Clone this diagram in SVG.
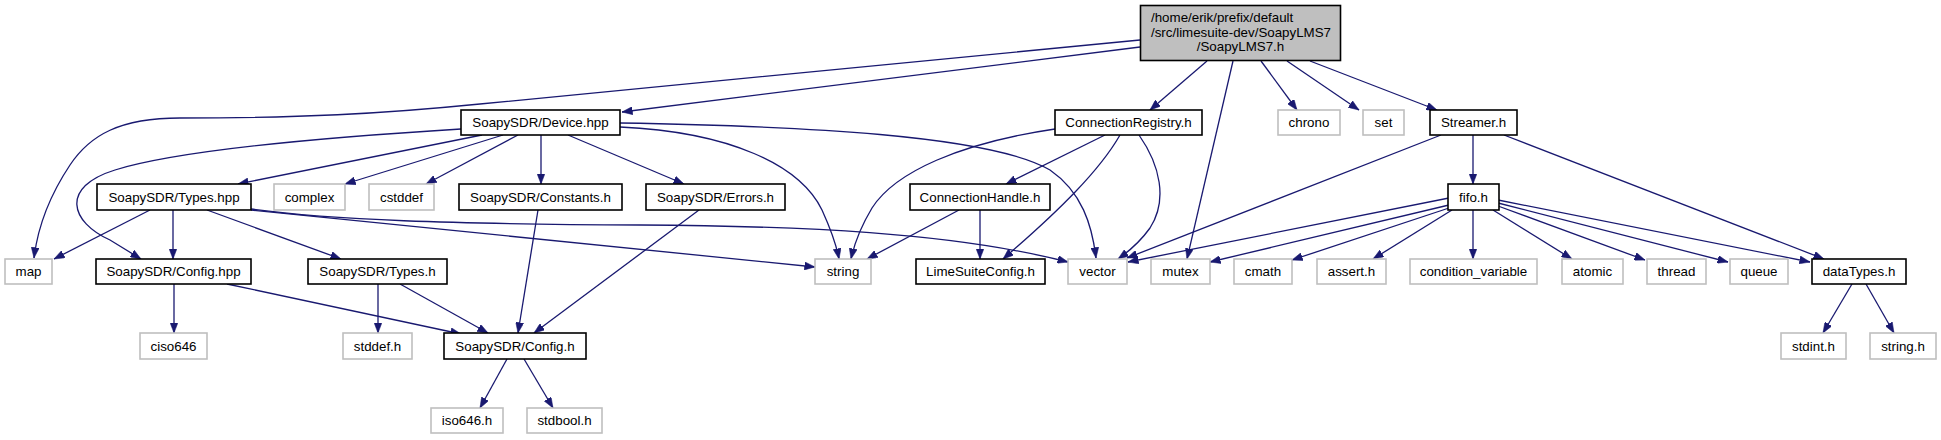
<svg xmlns="http://www.w3.org/2000/svg" width="1941" height="440" viewBox="0 0 1941 440">
<style>
text{font-family:"Liberation Sans",Arial,sans-serif;font-size:13.33px;fill:#000;text-anchor:middle}
.n rect{fill:#fff;stroke:#000;stroke-width:1.6}
.g rect{fill:#fff;stroke:#bfbfbf;stroke-width:1.6}
.m rect{fill:#bfbfbf;stroke:#000;stroke-width:1.6}
#edges path{fill:none;stroke:#191970;stroke-width:1.3;marker-end:url(#ah)}
</style>
<defs>
<marker id="ah" markerUnits="userSpaceOnUse" markerWidth="11" markerHeight="8" refX="10.5" refY="4" orient="auto">
<path d="M0,0 L10.5,4 L0,8 z" fill="#191970" stroke="#191970" stroke-width="0.5"/>
</marker>
</defs>
<rect width="1941" height="440" fill="#fff"/>
<g id="edges">
<path d="M1140,40 L480,104 C380,114 300,118 180,118 C120,118 90,135 70,165 C50,195 38,225 34,258"/>
<path d="M1140,47 L622,112"/>
<path d="M1207,61 L1150,110"/>
<path d="M1233,61 L1187,259"/>
<path d="M1261,61 L1297,110"/>
<path d="M1287,61 L1359,110"/>
<path d="M1310,61 L1437,110"/>
<path d="M461,129 C330,137 180,150 115,170 C60,187 70,222 110,240 L141,259"/>
<path d="M482,135 L238,184"/>
<path d="M503,135 L345,184"/>
<path d="M518,135 L426,184"/>
<path d="M541,135 L541,184"/>
<path d="M568,135 L684,184"/>
<path d="M620,127 C730,132 800,165 822,210 C832,232 837,248 839,259"/>
<path d="M620,123 C800,126 990,135 1050,170 C1082,192 1092,225 1096,258"/>
<path d="M150,210 L54,259"/>
<path d="M173,210 L173,259"/>
<path d="M207,210 L341,259"/>
<path d="M251,210 L815,267"/>
<path d="M251,209 C330,220 450,224 640,225 C800,226 950,232 1068,262"/>
<path d="M174,284 L174,333"/>
<path d="M227,284 L461,334"/>
<path d="M378,284 L378,333"/>
<path d="M400,284 L488,333"/>
<path d="M538,210 L518,333"/>
<path d="M699,210 L534,333"/>
<path d="M507,359 L480,408"/>
<path d="M524,359 L553,408"/>
<path d="M1055,129 C960,143 895,172 872,208 C860,228 854,245 851,259"/>
<path d="M1105,135 L1006,184"/>
<path d="M1120,135 C1100,170 1060,210 1003,259"/>
<path d="M1139,135 C1160,165 1168,200 1150,228 C1140,242 1128,252 1118,259"/>
<path d="M959,210 L867,259"/>
<path d="M980,210 L980,259"/>
<path d="M1441,135 L1127,258"/>
<path d="M1473,135 L1473,184"/>
<path d="M1504,135 L1824,259"/>
<path d="M1449,198 L1128,262"/>
<path d="M1449,205 L1210,262"/>
<path d="M1449,208 L1292,260"/>
<path d="M1452,210 L1373,259"/>
<path d="M1473,210 L1473,259"/>
<path d="M1493,210 L1572,259"/>
<path d="M1498,206 L1645,260"/>
<path d="M1498,203 L1728,262"/>
<path d="M1498,200 L1810,262"/>
<path d="M1852,284 L1823,333"/>
<path d="M1866,284 L1894,333"/>
</g>
<g id="main" class="m"><rect x="1140.5" y="5.5" width="200" height="55"/>
<text x="1151" y="22" style="text-anchor:start">/home/erik/prefix/default</text>
<text x="1151" y="37" style="text-anchor:start">/src/limesuite-dev/SoapyLMS7</text>
<text x="1240.5" y="51">/SoapyLMS7.h</text></g>
<g id="device_hpp" class="n"><rect x="461" y="110" width="159" height="25"/><text x="540.5" y="127">SoapySDR/Device.hpp</text></g>
<g id="connection_registry" class="n"><rect x="1055" y="110" width="147" height="25"/><text x="1128.5" y="127">ConnectionRegistry.h</text></g>
<g id="chrono" class="g"><rect x="1278" y="110" width="62" height="25"/><text x="1309" y="127">chrono</text></g>
<g id="set" class="g"><rect x="1363" y="110" width="41" height="25"/><text x="1383.5" y="127">set</text></g>
<g id="streamer" class="n"><rect x="1430" y="110" width="87" height="25"/><text x="1473.5" y="127">Streamer.h</text></g>
<g id="types_hpp" class="n"><rect x="97" y="184" width="154" height="26"/><text x="174" y="201.5">SoapySDR/Types.hpp</text></g>
<g id="complex" class="g"><rect x="274" y="184" width="71" height="26"/><text x="309.5" y="201.5">complex</text></g>
<g id="cstddef" class="g"><rect x="369" y="184" width="65" height="26"/><text x="401.5" y="201.5">cstddef</text></g>
<g id="constants" class="n"><rect x="459" y="184" width="163" height="26"/><text x="540.5" y="201.5">SoapySDR/Constants.h</text></g>
<g id="errors" class="n"><rect x="646" y="184" width="139" height="26"/><text x="715.5" y="201.5">SoapySDR/Errors.h</text></g>
<g id="connection_handle" class="n"><rect x="910" y="184" width="140" height="26"/><text x="980" y="201.5">ConnectionHandle.h</text></g>
<g id="fifo" class="n"><rect x="1448" y="184" width="51" height="26"/><text x="1473.5" y="201.5">fifo.h</text></g>
<g id="map" class="g"><rect x="5" y="259" width="47" height="25"/><text x="28.5" y="276">map</text></g>
<g id="config_hpp" class="n"><rect x="96" y="259" width="155" height="25"/><text x="173.5" y="276">SoapySDR/Config.hpp</text></g>
<g id="types_h" class="n"><rect x="308" y="259" width="139" height="25"/><text x="377.5" y="276">SoapySDR/Types.h</text></g>
<g id="string" class="g"><rect x="815" y="259" width="56" height="25"/><text x="843" y="276">string</text></g>
<g id="limesuite_config" class="n"><rect x="916" y="259" width="129" height="25"/><text x="980.5" y="276">LimeSuiteConfig.h</text></g>
<g id="vector" class="g"><rect x="1068" y="259" width="59" height="25"/><text x="1097.5" y="276">vector</text></g>
<g id="mutex" class="g"><rect x="1151" y="259" width="59" height="25"/><text x="1180.5" y="276">mutex</text></g>
<g id="cmath" class="g"><rect x="1234" y="259" width="58" height="25"/><text x="1263" y="276">cmath</text></g>
<g id="assert_h" class="g"><rect x="1317" y="259" width="69" height="25"/><text x="1351.5" y="276">assert.h</text></g>
<g id="condition_variable" class="g"><rect x="1410" y="259" width="127" height="25"/><text x="1473.5" y="276">condition_variable</text></g>
<g id="atomic" class="g"><rect x="1562" y="259" width="61" height="25"/><text x="1592.5" y="276">atomic</text></g>
<g id="thread" class="g"><rect x="1647" y="259" width="59" height="25"/><text x="1676.5" y="276">thread</text></g>
<g id="queue" class="g"><rect x="1730" y="259" width="58" height="25"/><text x="1759" y="276">queue</text></g>
<g id="datatypes" class="n"><rect x="1812" y="259" width="94" height="25"/><text x="1859" y="276">dataTypes.h</text></g>
<g id="ciso646" class="g"><rect x="140" y="333" width="67" height="26"/><text x="173.5" y="350.5">ciso646</text></g>
<g id="stddef_h" class="g"><rect x="343" y="333" width="69" height="26"/><text x="377.5" y="350.5">stddef.h</text></g>
<g id="config_h" class="n"><rect x="444" y="333" width="142" height="26"/><text x="515" y="350.5">SoapySDR/Config.h</text></g>
<g id="stdint_h" class="g"><rect x="1781" y="333" width="65" height="26"/><text x="1813.5" y="350.5">stdint.h</text></g>
<g id="string_h" class="g"><rect x="1870" y="333" width="66" height="26"/><text x="1903" y="350.5">string.h</text></g>
<g id="iso646_h" class="g"><rect x="431" y="408" width="72" height="25"/><text x="467" y="425">iso646.h</text></g>
<g id="stdbool_h" class="g"><rect x="527" y="408" width="75" height="25"/><text x="564.5" y="425">stdbool.h</text></g>
</svg>
